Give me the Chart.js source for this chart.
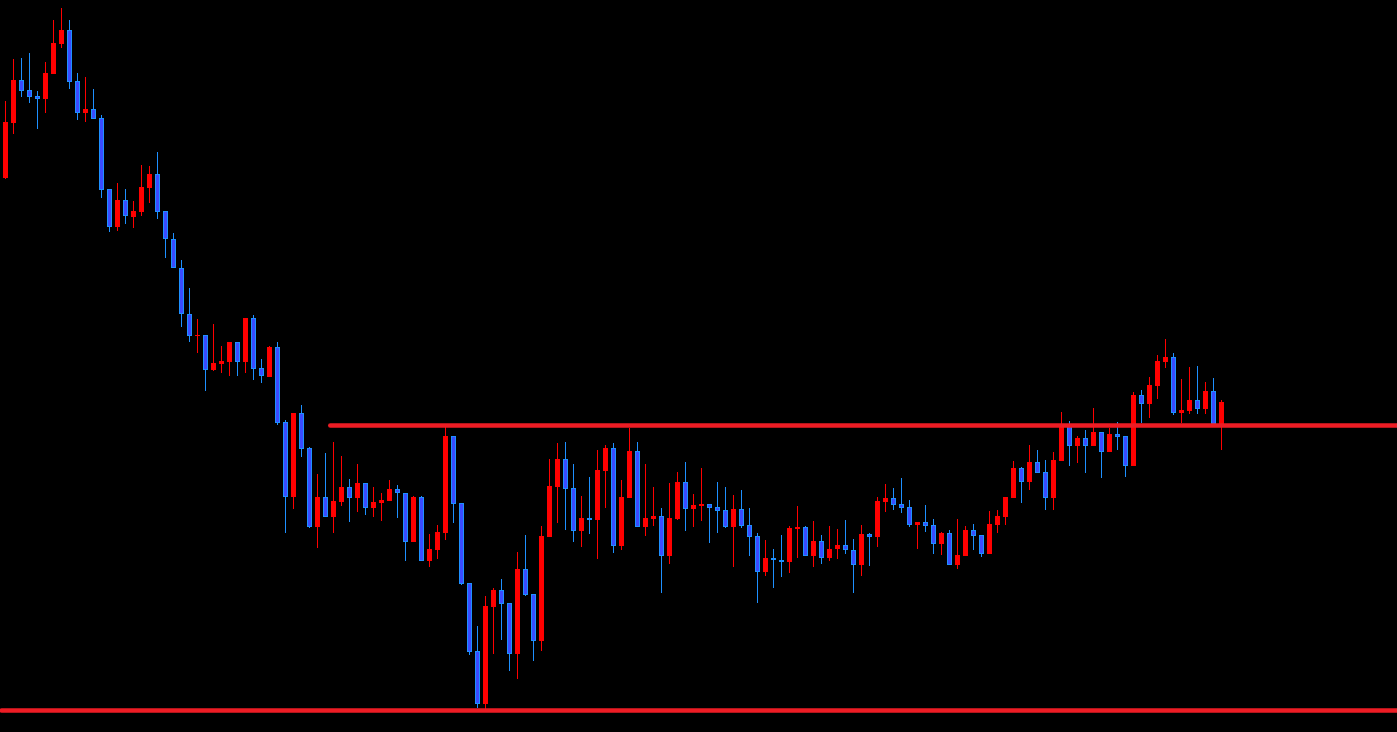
<!DOCTYPE html>
<html>
<head>
<meta charset="utf-8">
<script src="https://cdn.jsdelivr.net/npm/chart.js@4.4.1/dist/chart.umd.min.js"></script>
<style>
    html, body { margin: 0; padding: 0; background: #000; overflow: hidden; }
    #canvas-wrapper { position: relative; width: 1397px; height: 732px; }
</style>
</head>
<body>
<div id="canvas-wrapper"><canvas id="chart"></canvas></div>
<script>
// price values (arbitrary units), one entry per candle
const open = [
    554,609,652,642,636,633,658,688,702,651, 619,623,614,543,505,532,515,520,544,558,
    521,493,464,418,396,397,362,368,370,390, 370,414,364,355,385,310,235,319,284,205,
    235,215,230,245,234,249,224,229,231,243, 239,190,235,171,182,199,296,229,149,81,
    28,125,142,129,78,163,138,91,195,245, 273,244,201,214,212,261,284,186,234,281,
    205,213,216,176,213,250,223,226,228,225, 222,205,223,207,196,160,174,172,170,203,
    205,176,191,174,183,187,182,167,198,195, 230,234,228,225,207,210,207,188,199,167,
    176,202,197,178,207,215,234,264,250,270, 260,234,271,306,286,294,286,300,280,298,
    296,266,337,328,346,370,375,319,321,332, 323,341,308
];
const close = [
    610,652,641,635,633,659,689,702,650,619, 623,613,542,505,532,516,521,545,558,520,
    493,464,418,396,397,362,369,371,390,370, 414,363,356,385,309,235,319,283,205,235,
    215,231,245,234,249,224,230,232,243,239, 190,235,171,183,200,296,228,148,80,28,
    126,142,128,78,163,137,91,196,246,273, 243,201,214,212,262,284,186,235,281,205,
    214,216,176,214,250,223,227,228,224,221, 205,223,206,195,160,174,172,170,204,205,
    176,191,174,183,187,182,167,198,195,231, 234,227,224,207,210,206,188,199,167,177,
    202,196,178,208,216,235,264,250,270,259, 234,272,307,286,294,286,300,280,298,295,
    266,337,328,347,371,375,319,322,332,323, 341,308,330
];
const high = [
    631,673,674,679,641,670,712,724,712,659, 655,643,617,543,549,543,531,567,566,580,
    521,499,472,444,413,397,408,386,390,390, 414,417,373,386,390,312,319,327,285,258,
    279,290,276,253,268,249,245,239,252,247, 239,236,236,198,207,305,296,229,149,106,
    136,144,153,129,180,197,138,206,273,289, 290,268,236,255,282,287,289,252,304,290,
    268,245,224,249,260,270,238,264,228,250, 245,237,242,224,199,192,183,197,206,226,
    206,211,197,206,203,212,193,207,199,235, 248,244,254,232,210,227,213,200,202,213,
    206,208,197,221,222,235,271,265,287,282, 272,280,320,311,296,302,324,300,304,310,
    296,340,342,355,377,393,379,353,365,366, 350,354,332
];
const low = [
    553,598,635,629,603,619,658,684,643,612, 610,613,534,500,501,508,504,516,529,513,
    474,464,405,390,379,341,361,359,356,356, 359,352,349,355,307,199,223,275,204,184,
    215,199,226,210,220,217,215,211,231,214, 171,190,171,165,173,192,209,147,77,24,
    23,78,92,61,53,136,71,81,195,209, 202,190,185,198,173,224,179,182,234,205,
    196,206,139,168,212,201,205,211,189,199, 204,165,204,176,129,156,144,155,159,174,
    176,165,168,171,173,178,139,156,166,185, 220,222,219,205,183,200,178,177,167,163,
    176,182,175,178,199,207,234,229,242,259, 222,222,271,266,269,259,286,254,280,282,
    255,266,309,314,333,364,317,309,318,318, 318,308,282
];

// horizontal levels drawn on the chart
const levelValues = [306.5, 21.5];
const levelStarts = [40.6, -0.5];

const RED = '#ff0000';
const BLUE_EDGE = '#1e90ff';
const BLUE_FILL = '#3a4bff';
const LINE_RED = '#ed1c24';

const X_MIN = -0.6875;
const X_MAX = X_MIN + 1397 / 8;

const isUp = i => close[i] >= open[i];

const bodies = open.map((o, i) => ({ x: i, y: [o, close[i]] }));
const wicks = open.map((o, i) => ({ x: i, y: [low[i], high[i]] }));

const levelSets = levelValues.map((v, k) => ({
    type: 'line',
    data: [{ x: levelStarts[k], y: v }, { x: X_MAX + 1, y: v }],
    borderColor: LINE_RED,
    borderWidth: 4.5,
    borderCapStyle: 'round',
    pointRadius: 0,
    fill: false,
    order: 0
}));

const ctx = document.querySelector("#chart").getContext("2d");

const config = {
    type: 'bar',
    data: {
        datasets: [
            {
                label: 'body',
                data: bodies,
                barThickness: 5,
                grouped: false,
                backgroundColor: c => isUp(c.dataIndex) ? RED : BLUE_FILL,
                borderColor: c => isUp(c.dataIndex) ? RED : BLUE_EDGE,
                borderWidth: 1,
                borderSkipped: false,
                inflateAmount: 0,
                order: 1
            },
            {
                label: 'wick',
                data: wicks,
                barThickness: 1,
                grouped: false,
                backgroundColor: c => isUp(c.dataIndex) ? RED : BLUE_EDGE,
                borderWidth: 0,
                inflateAmount: 0,
                order: 2
            },
            ...levelSets
        ]
    },
    options: {
        responsive: true,
        maintainAspectRatio: false,
        animation: false,
        layout: { padding: 0 },
        plugins: {
            legend: { display: false },
            tooltip: { enabled: false }
        },
        scales: {
            x: {
                type: 'linear',
                display: false,
                offset: false,
                min: X_MIN,
                max: X_MAX,
                grid: { display: false }
            },
            y: {
                display: false,
                min: 0,
                max: 732,
                grid: { display: false }
            }
        }
    }
};

const myChart = new Chart(ctx, config);
</script>
</body>
</html>
